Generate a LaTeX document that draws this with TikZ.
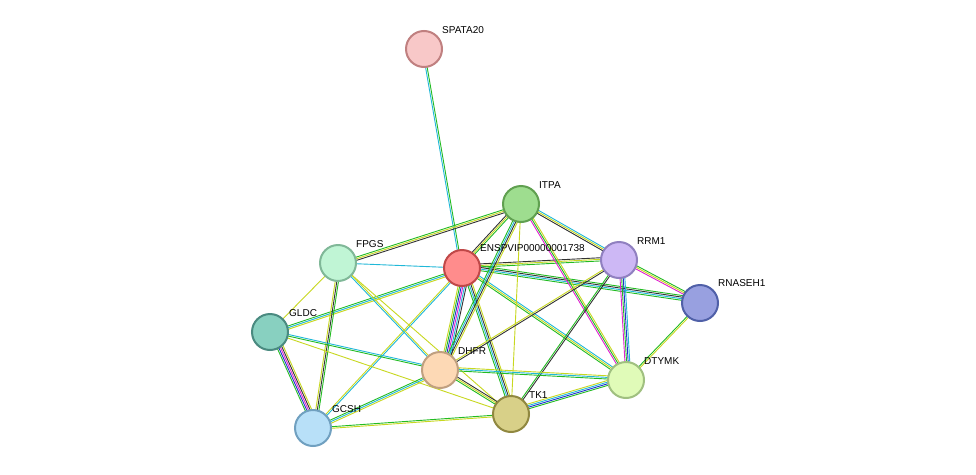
\documentclass[tikz,border=0pt]{standalone}
\usepackage{fontspec}
\setmainfont{Liberation Sans}
\usetikzlibrary{calc}
\definecolor{eg}{HTML}{22BB22}
\definecolor{ey}{HTML}{C8D820}
\definecolor{ec}{HTML}{20B8D8}
\definecolor{eb}{HTML}{2030D0}
\definecolor{em}{HTML}{E020D0}
\definecolor{ek}{HTML}{333333}
\definecolor{f1}{HTML}{F8C8C8}\definecolor{b1}{HTML}{C08080}
\definecolor{f2}{HTML}{9EDD8F}\definecolor{b2}{HTML}{60A050}
\definecolor{f3}{HTML}{FF8C8C}\definecolor{b3}{HTML}{C04848}
\definecolor{f4}{HTML}{C0F5D5}\definecolor{b4}{HTML}{80B898}
\definecolor{f5}{HTML}{CDB8F5}\definecolor{b5}{HTML}{9080C0}
\definecolor{f6}{HTML}{98A0E0}\definecolor{b6}{HTML}{5060A8}
\definecolor{f7}{HTML}{88D0C0}\definecolor{b7}{HTML}{4A8A80}
\definecolor{f8}{HTML}{FDD9B5}\definecolor{b8}{HTML}{C0A080}
\definecolor{f9}{HTML}{E0FBB8}\definecolor{b9}{HTML}{A0C080}
\definecolor{f10}{HTML}{D8D088}\definecolor{b10}{HTML}{908840}
\definecolor{f11}{HTML}{B8E0F8}\definecolor{b11}{HTML}{70A0C0}
\newcommand{\edg}[3]{%
  \foreach \c [count=\i] in {#3} {%
    \pgfmathsetmacro{\off}{(\i-1)*1.6}%
    \draw[\c,line width=0.9pt] ($(#1)!\off pt!90:(#2)$) -- ($(#2)!\off pt!-90:(#1)$);
  }}
\tikzset{
  prot/.style args={#1/#2}{circle,minimum size=36pt,inner sep=0pt,fill=#1,draw=#2,line width=2pt},
  lab/.style={font=\fontsize{10}{11}\selectfont,anchor=south west,inner sep=1pt}
}
\begin{document}
\begin{tikzpicture}[x=1pt,y=-1pt]
\useasboundingbox[fill=white] (0,0) rectangle (976,474);
\coordinate (SPATA20) at (424,49);
\coordinate (ITPA) at (521,204);
\coordinate (ENSP) at (462,268);
\coordinate (FPGS) at (338,263);
\coordinate (RRM1) at (619,260);
\coordinate (RNASEH1) at (700,303);
\coordinate (GLDC) at (270,332);
\coordinate (DHFR) at (440,370);
\coordinate (DTYMK) at (626,380);
\coordinate (TK1) at (511,414);
\coordinate (GCSH) at (313,428);
% edges
\edg{ENSP}{SPATA20}{eg,ec}
\edg{ENSP}{ITPA}{eg,ey,ek}
\edg{ENSP}{FPGS}{ec}
\edg{ENSP}{RRM1}{eg,ey,ek}
\edg{ENSP}{RNASEH1}{eg,ec,ek,eg}
\edg{ENSP}{GLDC}{eg,ec,ey}
\edg{ENSP}{DHFR}{ey,eg,eb,em,ec,ek}
\edg{ENSP}{DTYMK}{eg,ey,ec}
\edg{ENSP}{TK1}{eg,ec,ek,ey}
\edg{ENSP}{GCSH}{ey,ec}
\edg{ITPA}{FPGS}{eg,ey,ek}
\edg{ITPA}{RRM1}{ek,ey,ec}
\edg{ITPA}{DTYMK}{em,eg,ey}
\edg{ITPA}{DHFR}{eg,ec,ek,ey}
\edg{ITPA}{TK1}{ey}
\edg{FPGS}{GLDC}{ey}
\edg{FPGS}{GCSH}{ey,ek,eg}
\edg{FPGS}{DHFR}{ec,ey}
\edg{FPGS}{TK1}{ey}
\edg{RRM1}{RNASEH1}{em,ey,eg}
\edg{RRM1}{DTYMK}{em,eg,eb,ec}
\edg{RRM1}{TK1}{eg,ek}
\edg{RRM1}{DHFR}{ey,ek}
\edg{RNASEH1}{DTYMK}{eg,ey}
\edg{GLDC}{GCSH}{eg,eb,em,ek,ey}
\edg{GLDC}{DHFR}{eg,ec}
\edg{GLDC}{TK1}{ey}
\edg{DHFR}{DTYMK}{eg,ec,ey}
\edg{DHFR}{TK1}{eg,ey,ek}
\edg{DHFR}{GCSH}{eg,ec,ey}
\edg{TK1}{DTYMK}{eg,eb,ec,ey}
\edg{TK1}{GCSH}{eg,ey}
% nodes
\node[prot=f1/b1] (n1) at (SPATA20) {};
\node[prot=f2/b2] (n2) at (ITPA) {};
\node[prot=f3/b3] (n3) at (ENSP) {};
\node[prot=f4/b4] (n4) at (FPGS) {};
\node[prot=f5/b5] (n5) at (RRM1) {};
\node[prot=f6/b6] (n6) at (RNASEH1) {};
\node[prot=f7/b7] (n7) at (GLDC) {};
\node[prot=f8/b8] (n8) at (DHFR) {};
\node[prot=f9/b9] (n9) at (DTYMK) {};
\node[prot=f10/b10] (n10) at (TK1) {};
\node[prot=f11/b11] (n11) at (GCSH) {};
% labels
\node[lab] (l1) at (441,35) {SPATA20};
\node[lab] (l2) at (538,190) {ITPA};
\node[lab] (l3) at (479,253) {ENSPVIP00000001738};
\node[lab] (l4) at (355,249) {FPGS};
\node[lab] (l5) at (636,246) {RRM1};
\node[lab] (l6) at (717,288) {RNASEH1};
\node[lab] (l7) at (288,318) {GLDC};
\node[lab] (l8) at (457,356) {DHFR};
\node[lab] (l9) at (643,366) {DTYMK};
\node[lab] (l10) at (528,400) {TK1};
\node[lab] (l11) at (331,414) {GCSH};
\end{tikzpicture}
\end{document}
